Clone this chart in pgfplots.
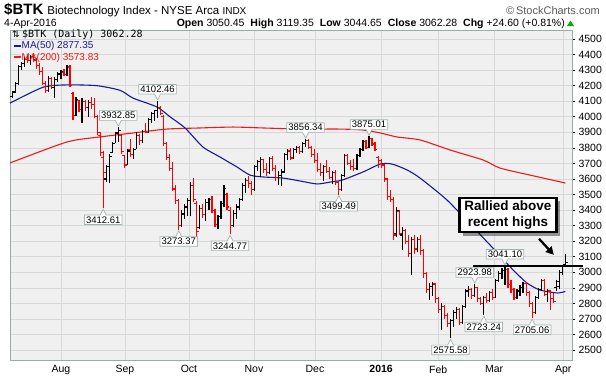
\documentclass[border=0pt]{standalone}
\usepackage{fontspec}
\setmainfont{Liberation Sans}
\newfontfamily\monofont{DejaVu Sans Mono}
\newfontfamily\dejavu{DejaVu Sans}
\usepackage{pgfplots}
\usepackage{pgfplotstable}
\pgfplotsset{compat=1.18}
\usetikzlibrary{shapes.callouts,shadows,arrows.meta}

\definecolor{ma50}{RGB}{25,25,150}
\definecolor{ma200}{RGB}{240,25,25}
\definecolor{barred}{RGB}{255,0,0}
\definecolor{plotbg}{RGB}{240,240,240}
\definecolor{gridcol}{RGB}{216,216,216}
\definecolor{bordercol}{RGB}{150,172,170}
\definecolor{labcol}{RGB}{160,180,176}

\pgfdeclareplotmark{openL}{\pgfpathmoveto{\pgfqpoint{-2.4pt}{0pt}}\pgfpathlineto{\pgfqpoint{0pt}{0pt}}\pgfusepathqstroke}
\pgfdeclareplotmark{closeR}{\pgfpathmoveto{\pgfqpoint{0pt}{0pt}}\pgfpathlineto{\pgfqpoint{2.4pt}{0pt}}\pgfusepathqstroke}

\tikzset{lab/.style={rectangle callout, draw=labcol, fill=white, line width=0.7pt,
  font=\fontsize{9.5}{10}\selectfont, inner xsep=1.6pt, inner ysep=1.4pt, callout pointer width=6pt}}
\newcommand{\hilab}[3]{\node[lab, anchor=south, callout absolute pointer={([yshift=1pt]axis cs:#1,#2)}] at ([yshift=6.5pt]axis cs:#1,#2) {#3};}
\newcommand{\lolab}[3]{\node[lab, anchor=north, callout absolute pointer={([yshift=-1pt]axis cs:#1,#2)}] at ([yshift=-6.5pt]axis cs:#1,#2) {#3};}

\pgfplotstableread{
i o h l c r
0 4130 4168 4118 4155 0
1 4160 4225 4150 4215 0
2 4215 4335 4205 4325 0
3 4325 4352 4300 4340 0
4 4340 4385 4320 4370 0
5 4370 4400 4345 4360 1
6 4360 4395 4330 4385 0
7 4385 4410 4350 4365 1
8 4360 4375 4310 4330 1
9 4330 4345 4270 4290 1
10 4290 4320 4205 4215 1
11 4215 4230 4150 4170 1
12 4170 4260 4160 4245 0
13 4245 4255 4180 4200 1
14 4190 4255 4120 4240 0
15 4240 4290 4225 4275 0
16 4275 4300 4240 4290 0
17 4285 4310 4260 4270 1
18 4270 4335 4265 4325 0
19 4320 4330 4190 4200 1
20 4150 4160 3980 4010 1
21 4010 4130 4005 4110 0
22 4105 4110 4030 4045 1
23 4045 4120 3960 4100 0
24 4100 4105 4040 4060 1
25 4060 4110 4000 4090 0
26 4090 4130 4050 4080 1
27 4080 4120 3990 4000 1
28 4000 4010 3880 3900 1
29 3880 3900 3750 3770 1
30 3740 3780 3412.61 3640 1
31 3600 3690 3580 3680 0
32 3680 3760 3575 3745 0
33 3770 3840 3765 3830 0
34 3830 3900 3830 3890 0
35 3900 3932.85 3840 3910 0
36 3880 3890 3760 3775 1
37 3750 3754 3670 3690 1
38 3690 3790 3690 3780 0
39 3790 3860 3740 3760 1
40 3760 3800 3730 3790 0
41 3790 3900 3790 3880 0
42 3880 3890 3820 3845 1
43 3845 3915 3830 3905 0
44 3905 3960 3895 3900 1
45 3900 3990 3900 3980 0
46 3980 4030 3960 4020 0
47 4020 4045 3970 4040 0
48 4040 4102.46 3990 4060 0
49 4060 4070 4010 4020 1
50 4000 4010 3810 3830 1
51 3830 3840 3720 3740 1
52 3740 3760 3650 3670 1
53 3670 3710 3520 3540 1
54 3530 3560 3440 3460 1
55 3460 3470 3273.37 3300 1
56 3300 3400 3290 3380 0
57 3370 3440 3340 3420 0
58 3420 3480 3360 3460 0
59 3460 3580 3360 3560 0
60 3560 3606 3450 3470 1
61 3440 3460 3230 3260 1
62 3290 3430 3280 3410 0
63 3410 3440 3350 3370 1
64 3370 3470 3330 3450 0
65 3450 3480 3400 3470 0
66 3470 3490 3380 3400 1
67 3400 3410 3290 3310 1
68 3310 3370 3280 3360 0
69 3360 3460 3340 3440 0
70 3440 3561 3420 3540 0
71 3500 3510 3400 3420 1
72 3400 3420 3244.77 3300 1
73 3300 3400 3290 3380 0
74 3380 3440 3340 3420 0
75 3420 3480 3400 3470 0
76 3470 3575 3460 3560 0
77 3560 3606 3510 3590 0
78 3590 3620 3540 3570 1
79 3570 3590 3497 3530 1
80 3530 3690 3525 3680 0
81 3680 3720 3650 3710 0
82 3710 3740 3610 3725 0
83 3725 3730 3640 3660 1
84 3660 3700 3620 3640 1
85 3640 3740 3630 3730 0
86 3730 3745 3650 3670 1
87 3670 3690 3590 3610 1
88 3610 3650 3560 3620 0
89 3620 3665 3555 3645 0
90 3645 3770 3640 3760 0
91 3760 3790 3720 3780 0
92 3780 3800 3720 3735 1
93 3735 3800 3730 3790 0
94 3790 3810 3765 3805 0
95 3805 3815 3760 3775 1
96 3775 3840 3770 3830 0
97 3830 3856.34 3805 3850 0
98 3850 3855 3790 3800 1
99 3800 3810 3740 3760 1
100 3760 3790 3700 3720 1
101 3720 3770 3645 3660 1
102 3660 3700 3620 3640 1
103 3640 3690 3590 3680 0
104 3680 3720 3640 3650 1
105 3650 3680 3600 3610 1
106 3610 3650 3570 3640 0
107 3640 3660 3560 3580 1
108 3580 3590 3499.49 3530 1
109 3530 3630 3520 3620 0
110 3620 3760 3610 3750 0
111 3750 3760 3690 3700 1
112 3700 3720 3660 3680 1
113 3680 3730 3650 3670 1
114 3670 3760 3660 3750 0
115 3750 3800 3740 3790 0
116 3790 3850 3780 3840 0
117 3840 3850 3790 3800 1
118 3800 3875.01 3800 3860 0
119 3860 3865 3810 3825 1
120 3825 3840 3780 3790 1
121 3740 3745 3670 3720 1
122 3720 3730 3670 3690 1
123 3690 3695 3580 3600 1
124 3600 3605 3465 3490 1
125 3490 3530 3450 3470 1
126 3470 3484 3210 3240 1
127 3250 3420 3227 3400 0
128 3390 3400 3240 3250 1
129 3240 3290 3143 3270 0
130 3270 3280 3180 3200 1
131 3200 3240 3098 3120 1
132 3120 3227 2982 3210 0
133 3210 3240 3120 3150 1
134 3150 3230 3130 3210 0
135 3210 3240 3110 3140 1
136 3140 3150 2963 2990 1
137 2990 3000 2867 2890 1
138 2890 2930 2822 2910 0
139 2910 2940 2850 2925 0
140 2925 2930 2803 2830 1
141 2830 2840 2740 2760 1
142 2760 2800 2629 2780 0
143 2780 2790 2700 2720 1
144 2720 2740 2648 2670 1
145 2670 2700 2575.58 2690 0
146 2690 2760 2650 2740 0
147 2740 2780 2700 2760 0
148 2760 2770 2660 2680 1
149 2680 2790 2670 2780 0
150 2780 2890 2770 2880 0
151 2880 2910 2840 2890 0
152 2890 2900 2830 2850 1
153 2850 2923.98 2840 2900 0
154 2900 2905 2810 2830 1
155 2830 2840 2790 2800 1
156 2800 2850 2723.24 2840 0
157 2840 2870 2800 2820 1
158 2820 2880 2810 2870 0
159 2870 2890 2820 2840 1
160 2840 2960 2840 2950 0
161 2950 3010 2940 2990 0
162 2990 3030 2960 3010 0
163 3010 3041.10 2920 3020 0
164 3020 3030 2900 2920 1
165 2920 2950 2870 2890 1
166 2890 2900 2820 2840 1
167 2840 2890 2830 2880 0
168 2880 2920 2850 2900 0
169 2900 2940 2870 2930 0
170 2930 2935 2850 2870 1
171 2870 2880 2780 2800 1
172 2800 2810 2705.06 2740 1
173 2740 2850 2735 2840 0
174 2840 2900 2830 2890 0
175 2890 2960 2880 2950 0
176 2950 2955 2850 2860 1
177 2860 2890 2810 2880 0
178 2880 2885 2757 2830 1
179 2830 2870 2800 2810 1
180 2900 2950 2880 2940 0
181 2910 3015 2890 3000 0
182 3000 3040 2980 3037.68 0
183 3050.45 3119.35 3044.65 3062.28 0
}\btk

\begin{document}
\begin{tikzpicture}
\useasboundingbox (0,0) rectangle (606pt,376pt);
\begin{axis}[
  at={(10pt,16pt)}, anchor=south west,
  width=562pt, height=330pt, scale only axis,
  xmin=-0.86, xmax=185.2, ymin=2436, ymax=4558,
  axis background/.style={fill=plotbg},
  axis line style={draw=bordercol, line width=0.8pt},
  grid=major, major grid style={draw=gridcol, line width=0.6pt},
  xtick={16,37.2,58.4,79.9,100.1,122,140.9,159.4,182.3},
  xticklabels={Aug,Sep,Oct,Nov,Dec,\textbf{2016},Feb,Mar,Apr},
  ytick={2500,2600,2700,2800,2900,3000,3100,3200,3300,3400,3500,3600,3700,3800,3900,4000,4100,4200,4300,4400,4500},
  ytick pos=right, yticklabel pos=right,
  tick align=outside, major tick length=3pt,
  xtick style={draw=none},
  ytick style={draw=black, line width=0.6pt},
  ticklabel style={font=\fontsize{10.5}{12}\selectfont},
  xticklabel style={yshift=1pt},
  /pgf/number format/assume math mode=true,
  /pgf/number format/1000 sep={},
  unbounded coords=discard,
  clip=false,
]
% MA(200)
\addplot[ma200, line width=1.1pt, smooth, tension=0.4, forget plot] coordinates {
(-0.86,3703) (18,3838) (28.8,3870) (39.9,3896) (51.1,3921) (62,3928) (73,3934) (83,3928)
(95.2,3921) (108.4,3921) (116,3915) (121.7,3896) (127.3,3870) (134.9,3851) (144.9,3786)
(155.8,3722) (161.4,3670) (172,3622) (183,3574)};
% MA(50)
\addplot[ma50, line width=1.1pt, smooth, tension=0.4, forget plot] coordinates {
(-0.86,4088) (10.1,4190) (18,4205) (27.9,4200) (35.6,4170) (39.9,4120) (47.8,4063) (52.1,4000)
(57.1,3928) (63,3806) (68.7,3741) (74.3,3677) (78.6,3625) (82.9,3613) (89.5,3606) (95.2,3587)
(100.8,3568) (105.1,3580) (109.1,3593) (116,3645) (121.7,3696) (125.6,3696) (130.6,3658)
(134.9,3606) (143.8,3465) (152.4,3291) (159,3156) (165.7,3015) (170.3,2931) (174.6,2886)
(180.3,2867) (183,2877)};

% black bars (r = 0)
\addplot[draw=none, mark=none, forget plot,
  error bars/.cd, y dir=plus, y explicit, error mark=none,
  error bar style={draw=black, line width=1.15pt}]
  table[x expr={\thisrow{r}==0 ? \thisrow{i} : nan}, y=l, y error plus expr=\thisrow{h}-\thisrow{l}] {\btk};
\addplot[only marks, mark=openL, black, line width=1.1pt, forget plot]
  table[x expr={\thisrow{r}==0 ? \thisrow{i} : nan}, y=o] {\btk};
\addplot[only marks, mark=closeR, black, line width=1.1pt, forget plot]
  table[x expr={\thisrow{r}==0 ? \thisrow{i} : nan}, y=c] {\btk};
% red bars (r = 1)
\addplot[draw=none, mark=none, forget plot,
  error bars/.cd, y dir=plus, y explicit, error mark=none,
  error bar style={draw=barred, line width=1.15pt}]
  table[x expr={\thisrow{r}==1 ? \thisrow{i} : nan}, y=l, y error plus expr=\thisrow{h}-\thisrow{l}] {\btk};
\addplot[only marks, mark=openL, barred, line width=1.1pt, forget plot]
  table[x expr={\thisrow{r}==1 ? \thisrow{i} : nan}, y=o] {\btk};
\addplot[only marks, mark=closeR, barred, line width=1.1pt, forget plot]
  table[x expr={\thisrow{r}==1 ? \thisrow{i} : nan}, y=c] {\btk};

% recent-high line
\addplot[black, line width=1.2pt, forget plot] coordinates {(152.4,3041.1) (189,3041.1)};

\hilab{48}{4102.46}{4102.46}
\hilab{35}{3932.85}{3932.85}
\lolab{30}{3412.61}{3412.61}
\lolab{55}{3273.37}{3273.37}
\lolab{72}{3244.77}{3244.77}
\hilab{97}{3856.34}{3856.34}
\lolab{108}{3499.49}{3499.49}
\hilab{118}{3875.01}{3875.01}
\lolab{145}{2575.58}{2575.58}
\lolab{156}{2723.24}{2723.24}
\hilab{153}{2923.98}{2923.98}
\hilab{163}{3041.10}{3041.10}
\lolab{172}{2705.06}{2705.06}

\node[draw=black, line width=2.6pt, fill=white, align=center, inner xsep=5pt, inner ysep=3pt,
  font=\bfseries\fontsize{13.5}{15.5}\selectfont,
  drop shadow={shadow xshift=3.5pt, shadow yshift=-3.5pt, fill=black, opacity=0.4}]
  at (axis cs:164,3368) {Rallied above\\recent highs};
\draw[line width=2.3pt, -{Triangle[length=8pt,width=8pt]}] (axis cs:174.3,3215) -- (axis cs:179.2,3112);
\end{axis}

% header
\node[anchor=base west, inner sep=0] at (4pt,362pt)
  {{\fontsize{15}{16}\selectfont\bfseries\$BTK}\hspace{4pt}{\fontsize{11.5}{12}\selectfont Biotechnology Index - NYSE Arca {\fontsize{10}{12}\selectfont INDX}}};
\node[anchor=base east, inner sep=0, text=black!65] at (600pt,362pt) {\fontsize{11}{12}\selectfont \textcopyright\,StockCharts.com};
\node[anchor=base west, inner sep=0] at (4pt,349pt) {\fontsize{10.5}{12}\selectfont 4-Apr-2016};
\node[anchor=base east, inner sep=0] at (565pt,349pt) {\fontsize{10.5}{12}\selectfont
  \textbf{Open} 3050.45\hspace{6pt}\textbf{High} 3119.35\hspace{6pt}\textbf{Low} 3044.65\hspace{6pt}\textbf{Close} 3062.28\hspace{6pt}\textbf{Chg} +24.60 (+0.81\%)};
\fill[green!70!black] (567pt,350pt) -- (574pt,350pt) -- (570.5pt,355.5pt) -- cycle;

% legend
\node[anchor=base west, inner sep=0] at (12pt,338pt) {\dejavu\fontsize{9}{10}\selectfont ⇅};
\node[anchor=base west, inner sep=0] at (22pt,338pt) {\monofont\fontsize{10}{11}\selectfont \$BTK (Daily) 3062.28};
\draw[ma50, line width=2pt] (14pt,330.5pt) -- (21pt,330.5pt);
\node[anchor=base west, inner sep=0, text=ma50] at (21.5pt,327pt) {\fontsize{10}{11}\selectfont MA(50) 2877.35};
\draw[ma200, line width=2pt] (14pt,319.5pt) -- (21pt,319.5pt);
\node[anchor=base west, inner sep=0, text=ma200] at (21.5pt,316pt) {\fontsize{10}{11}\selectfont MA(200) 3573.83};
\end{tikzpicture}
\end{document}
